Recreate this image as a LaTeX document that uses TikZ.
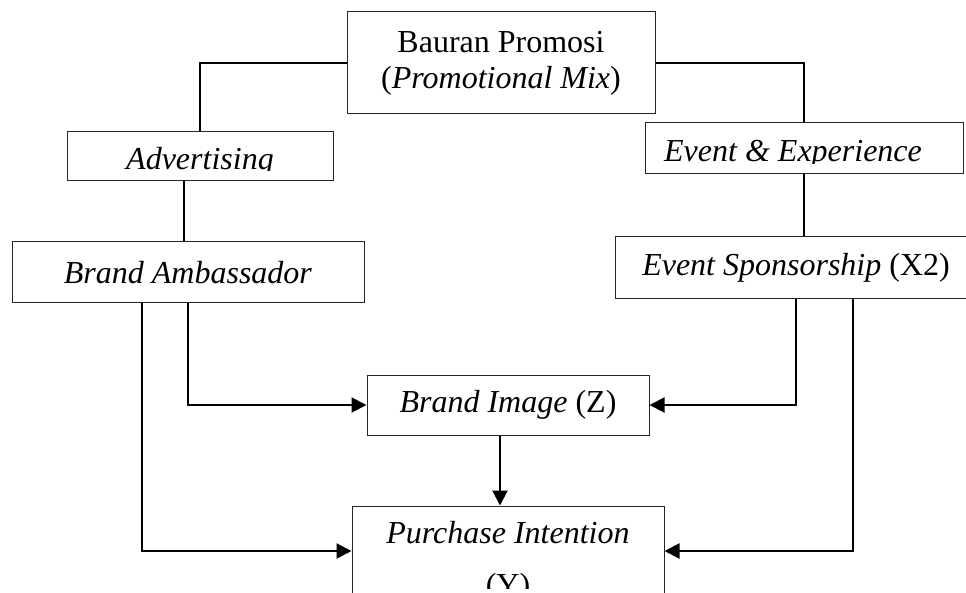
\documentclass[tikz,border=0pt]{standalone}
\usepackage{fontspec}
\setmainfont{Liberation Serif}
\usetikzlibrary{arrows.meta}
\begin{document}
\begin{tikzpicture}[x=1pt,y=-1pt,
  box/.style={draw=black!85, line width=1pt, inner sep=0pt, font=\fontsize{32}{36}\selectfont},
  txt/.style={inner sep=0pt, font=\fontsize{32}{36}\selectfont},
  link/.style={draw=black, line width=1.3pt},
  arr/.style={draw=black, line width=2pt, -{Triangle[length=15pt,width=15pt]}}]
\useasboundingbox (0,0) rectangle (966,593);
\clip (0,0) rectangle (966,593);
% boxes
\node[box, minimum width=308pt, minimum height=102pt, align=center] (bauran) at (501,63)
  {Bauran Promosi\\(\textit{Promotional Mix})};
\node[box, minimum width=266pt, minimum height=49pt] (adv) at (200,156.5) {};
\node[box, minimum width=318pt, minimum height=51pt] (ee) at (804,148.5) {};
\node[box, minimum width=352pt, minimum height=61pt] (ba) at (188,272.5) {\textit{Brand Ambassador}};
\node[box, minimum width=362pt, minimum height=62pt] (es) at (796,268) {\textit{Event Sponsorship} (X2)};
\node[box, minimum width=282pt, minimum height=60pt] (bi) at (508,405) {\textit{Brand Image} (Z)};
\node[box, minimum width=312pt, minimum height=90pt] (pi) at (508,551) {};
% clipped texts
\begin{scope}
  \clip (67,132) rectangle (333,171);
  \node[txt, anchor=base] (advt) at (200,170) {\textit{Advertising}};
\end{scope}
\begin{scope}
  \clip (645,123) rectangle (963,163.5);
  \node[txt, anchor=base] (eet) at (793,162) {\textit{Event \& Experience}};
\end{scope}
\begin{scope}
  \clip (352,506) rectangle (664,588);
  \node[txt, anchor=base, align=center] (pit) at (508,543) {\textit{Purchase Intention}};
  \node[txt, anchor=base] (pity) at (508,595) {(Y)};
\end{scope}
% top connectors
\draw[link] (bauran.west) -| (adv.north);
\draw[link] (bauran.east) -| (ee.north);
\draw[link] ([xshift=-16pt]adv.south) -- ([xshift=-16pt]adv.south |- ba.north);
\draw[link] (ee.south) -- (ee.south |- es.north);
% arrows
\draw[arr] (ba.south) |- (bi.west);
\draw[arr] ([xshift=-46pt]ba.south) |- (pi.west);
\draw[arr] (es.south) |- (bi.east);
\draw[arr] ([xshift=57pt]es.south) |- (pi.east);
\draw[arr] ([xshift=-8pt]bi.south) -- ([xshift=-8pt]pi.north);
\end{tikzpicture}
\end{document}
